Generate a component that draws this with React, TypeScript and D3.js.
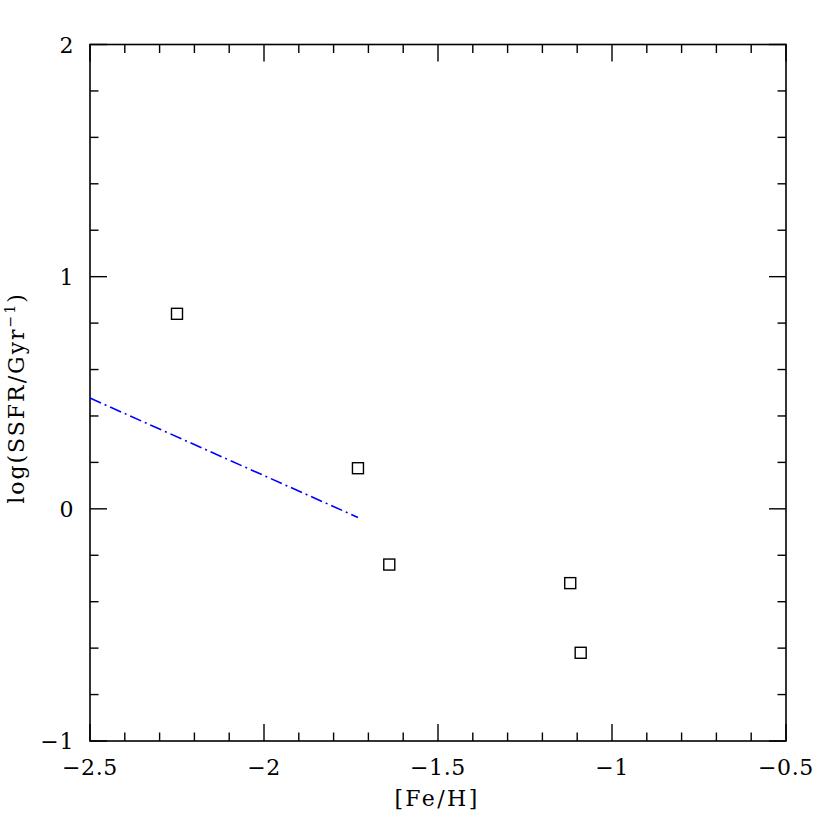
import React from "react";
import * as d3 from "d3";

const pointFeH = [-2.25, -1.73, -1.64, -1.12, -1.09];
const pointSSFR = [0.84, 0.175, -0.24, -0.32, -0.62];
const lineFeH = [-2.5, -1.73];
const lineSSFR = [0.477, -0.037];
const xTickLabels = ["\u22122.5", "\u22122", "\u22121.5", "\u22121", "\u22120.5"];
const xTickValues = [-2.5, -2, -1.5, -1, -0.5];
const yTickLabels = ["\u22121", "0", "1", "2"];
const yTickValues = [-1, 0, 1, 2];

const W = 830, H = 830;
const L = 90, R = 786, T = 44.5, B = 741;
const font = "'DejaVu Serif', serif";

export default function App() {
  const x = d3.scaleLinear().domain([-2.5, -0.5]).range([L, R]);
  const y = d3.scaleLinear().domain([-1, 2]).range([B, T]);
  const xMinor = d3.range(-2.5, -0.5 + 1e-9, 0.1);
  const yMinor = d3.range(-1, 2 + 1e-9, 0.2);
  const isMajX = (v: number) => Math.abs(v * 2 - Math.round(v * 2)) < 1e-6;
  const isMajY = (v: number) => Math.abs(v - Math.round(v)) < 1e-6;
  const lineGen = d3.line<number>().x((_, i) => x(lineFeH[i])).y((d) => y(d));
  const s = 11;
  return (
    <svg width={W} height={H} style={{ position: "absolute", left: 0, top: 0, background: "#fff" }}>
      <rect x={L} y={T} width={R - L} height={B - T} fill="none" stroke="#000" strokeWidth={1.6} />
      {xMinor.map((v, i) => {
        const len = isMajX(v) ? 17 : 8.5;
        return (
          <g key={"xt" + i}>
            <line x1={x(v)} x2={x(v)} y1={B} y2={B - len} stroke="#000" strokeWidth={1.4} />
            <line x1={x(v)} x2={x(v)} y1={T} y2={T + len} stroke="#000" strokeWidth={1.4} />
          </g>
        );
      })}
      {yMinor.map((v, i) => {
        const len = isMajY(v) ? 17 : 8.5;
        return (
          <g key={"yt" + i}>
            <line x1={L} x2={L + len} y1={y(v)} y2={y(v)} stroke="#000" strokeWidth={1.4} />
            <line x1={R} x2={R - len} y1={y(v)} y2={y(v)} stroke="#000" strokeWidth={1.4} />
          </g>
        );
      })}
      {xTickValues.map((v, i) => (
        <text key={"xl" + i} x={x(v)} y={B + 34} textAnchor="middle" fontFamily={font} fontSize={22} letterSpacing={0.6}>
          {xTickLabels[i]}
        </text>
      ))}
      {yTickValues.map((v, i) => (
        <text key={"yl" + i} x={L - 16} y={y(v) + 8} textAnchor="end" fontFamily={font} fontSize={22} letterSpacing={0.6}>
          {yTickLabels[i]}
        </text>
      ))}
      <text x={437} y={806} textAnchor="middle" fontFamily={font} fontSize={22} letterSpacing={2.4}>[Fe/H]</text>
      <text transform={`translate(24, 398) rotate(-90)`} textAnchor="middle" fontFamily={font} fontSize={22} letterSpacing={2}>
        log(SSFR/Gyr<tspan dy={-9} fontSize={14}>{"\u22121"}</tspan><tspan dy={9}>)</tspan>
      </text>
      <path d={lineGen(lineSSFR) || ""} fill="none" stroke="#0000ff" strokeWidth={1.6} strokeDasharray="12 4 2 4" />
      {pointFeH.map((v, i) => (
        <rect key={"p" + i} x={x(v) - s / 2} y={y(pointSSFR[i]) - s / 2} width={s} height={s} fill="none" stroke="#000" strokeWidth={1.4} />
      ))}
    </svg>
  );
}
